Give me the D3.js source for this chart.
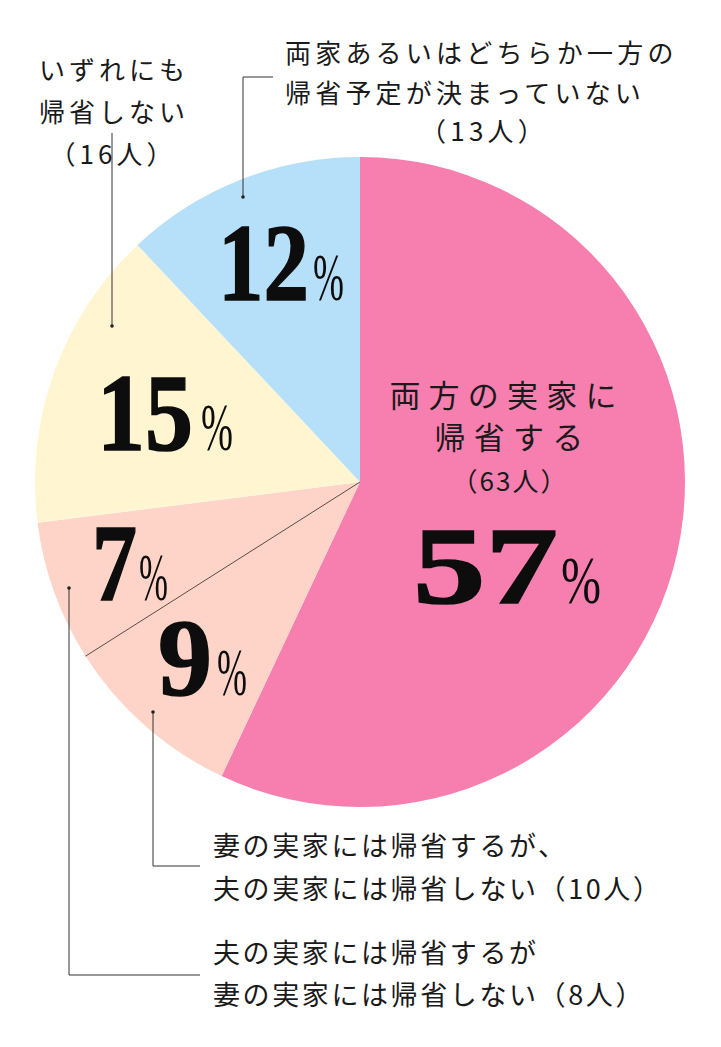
<!DOCTYPE html>
<html>
<head>
<meta charset="utf-8">
<script src="https://cdn.jsdelivr.net/npm/d3@7"></script>
<style>
  html, body { margin: 0; padding: 0; background: #fff; }
  .jp { font-family: "Noto Sans CJK JP", "Noto Sans", sans-serif; fill: #1a1a1a; }
  .num { font-family: "Liberation Serif", "DejaVu Serif", serif; fill: #0d0d0d; }
</style>
</head>
<body>
<div id="chart"></div>
<script>
//Datos
const categorias = ['両方の実家に帰省する', '妻の実家には帰省するが、夫の実家には帰省しない', '夫の実家には帰省するが妻の実家には帰省しない', 'いずれにも帰省しない', '両家あるいはどちらか一方の帰省予定が決まっていない'];
const porcentajes = [57, 9, 7, 15, 12];
const personas = [63, 10, 8, 16, 13];

//Colores fijos
const COLOR_PINK = '#F67FAF',
COLOR_PEACH = '#FDD4C7',
COLOR_CREAM = '#FFF6D1',
COLOR_BLUE = '#B6DFF9';
const colores = [COLOR_PINK, COLOR_PEACH, COLOR_PEACH, COLOR_CREAM, COLOR_BLUE];

let width = 721, height = 1047;
let cx = 360, cy = 482, radius = 325;

let svg = d3.select('#chart')
    .append('svg')
      .attr('width', width)
      .attr('height', height);

svg.append('rect').attr('width', width).attr('height', height).attr('fill', '#fff');

let pie = d3.pie().sort(null).value(function(d) { return d; });
let arcs = pie(porcentajes);
let arc = d3.arc().innerRadius(0).outerRadius(radius);

let g = svg.append('g').attr('transform', 'translate(' + cx + ',' + cy + ')');

g.selectAll('path')
    .data(arcs)
    .enter()
    .append('path')
    .attr('d', arc)
    .attr('fill', function(d, i) { return colores[i]; });

//Línea divisoria entre los dos sectores del mismo color
let pSep = d3.pointRadial(arcs[2].startAngle, radius);
g.append('line')
    .attr('x1', 0).attr('y1', 0)
    .attr('x2', pSep[0]).attr('y2', pSep[1])
    .attr('stroke', '#4a3a36')
    .attr('stroke-width', 0.9);

//Porcentajes grandes (posición de cada etiqueta)
let numLayout = [
    {x: 413, y: 603, w: 145, px: 561, pw: 40},
    {x: 158, y: 695, w: 54, px: 217, pw: 30},
    {x: 92, y: 600, w: 45, px: 139, pw: 29},
    {x: 97, y: 450, w: 96, px: 201, pw: 32},
    {x: 218, y: 300, w: 91, px: 313, pw: 31}
];

porcentajes.forEach(function(v, i) {
    let l = numLayout[i];
    let t = svg.append('text')
        .attr('class', 'num')
        .attr('y', l.y);
    t.append('tspan')
        .attr('x', l.x)
        .attr('font-size', 110)
        .attr('font-weight', 'bold')
        .attr('stroke', '#0d0d0d')
        .attr('stroke-width', 1.6)
        .attr('textLength', l.w)
        .attr('lengthAdjust', 'spacingAndGlyphs')
        .text(v);
    t.append('tspan')
        .attr('x', l.px)
        .attr('font-size', 68)
        .attr('font-weight', 'normal')
        .attr('textLength', l.pw)
        .attr('lengthAdjust', 'spacingAndGlyphs')
        .text('%');
});

//Textos
function addLines(lines, size, spacing) {
    lines.forEach(function(l) {
        svg.append('text')
            .attr('class', 'jp')
            .attr('x', l.x).attr('y', l.y)
            .attr('font-size', size)
            .attr('letter-spacing', spacing)
            .attr('text-anchor', l.anchor || 'start')
            .text(l.t);
    });
}

//Rosa
addLines([
    {t: '両方の実家に', x: 507, y: 407, anchor: 'middle'},
    {t: '帰省する', x: 513, y: 449, anchor: 'middle'}
], 31, 8.2);
addLines([{t: '（' + personas[0] + '人）', x: 510, y: 491, anchor: 'middle'}], 26, 2);

//Arriba derecha
addLines([
    {t: '両家あるいはどちらか一方の', x: 285, y: 63},
    {t: '帰省予定が決まっていない', x: 285, y: 103},
    {t: '（' + personas[4] + '人）', x: 484, y: 141, anchor: 'middle'}
], 26, 4.2);

//Arriba izquierda
addLines([
    {t: 'いずれにも', x: 114, y: 80, anchor: 'middle'},
    {t: '帰省しない', x: 114, y: 122, anchor: 'middle'},
    {t: '（' + personas[3] + '人）', x: 113, y: 164, anchor: 'middle'}
], 26, 4);

//Abajo
addLines([
    {t: '妻の実家には帰省するが、', x: 213, y: 856},
    {t: '夫の実家には帰省しない（' + personas[1] + '人）', x: 213, y: 899},
    {t: '夫の実家には帰省するが', x: 213, y: 963},
    {t: '妻の実家には帰省しない（' + personas[2] + '人）', x: 213, y: 1005}
], 27, 2.6);

//Líneas guía
let guias = [
    [[273, 77], [243, 77], [243, 197]],
    [[112, 133], [112, 326]],
    [[200, 866], [153, 866], [153, 712]],
    [[200, 975], [69, 975], [69, 588]]
];
guias.forEach(function(p) {
    svg.append('path')
        .attr('d', d3.line()(p))
        .attr('fill', 'none')
        .attr('stroke', '#333')
        .attr('stroke-width', 1);
    let end = p[p.length - 1];
    svg.append('circle')
        .attr('cx', end[0]).attr('cy', end[1])
        .attr('r', 1.8)
        .attr('fill', '#222');
});
</script>
</body>
</html>
